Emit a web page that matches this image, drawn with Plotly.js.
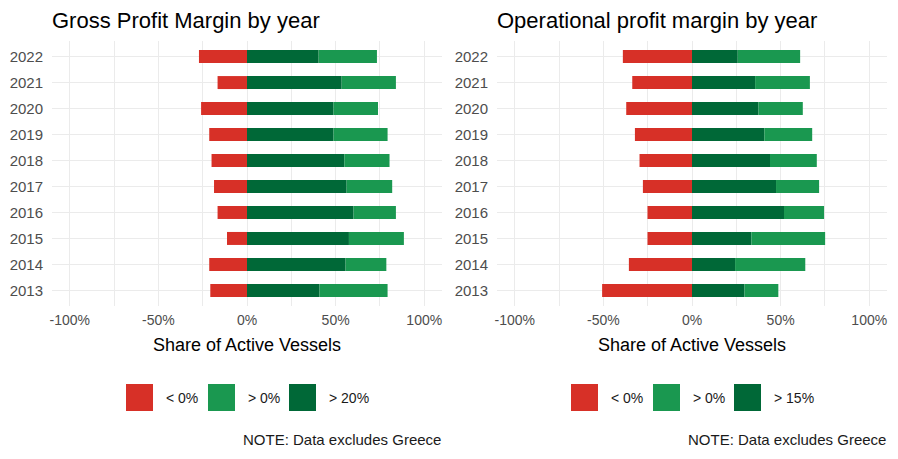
<!DOCTYPE html>
<html>
<head>
<meta charset="utf-8">
<script src="https://cdn.plot.ly/plotly-3.0.1.min.js"></script>
<style>
  html, body { margin: 0; padding: 0; background: #fff; }
  #chart { width: 898px; height: 459px; }
</style>
</head>
<body>
<div id="chart"></div>
<script>
// data (share of active vessels, %)
const years = ['2013', '2014', '2015', '2016', '2017', '2018', '2019', '2020', '2021', '2022'];

// gross profit margin
const grossNeg    = [-20.7, -21.3, -11.3, -16.6, -18.6, -20.0, -21.3, -25.9, -16.6, -27.1];
const grossOver20 = [40.9, 55.6, 57.5, 60.1, 56.2, 54.9, 48.8, 48.8, 53.4, 40.4];
const grossOver0  = [38.4, 23.0, 31.0, 23.9, 25.7, 25.5, 30.5, 25.1, 30.6, 32.9];

// operational profit margin
const opNeg    = [-50.7, -35.6, -25.1, -25.1, -27.7, -29.6, -32.2, -37.1, -33.7, -39.0];
const opOver15 = [29.6, 24.3, 33.5, 51.9, 47.4, 44.0, 40.8, 37.5, 35.6, 25.8];
const opOver0  = [19.1, 39.6, 41.6, 22.6, 24.3, 26.4, 27.0, 25.0, 30.9, 35.2];

const xTicks = [-100, -50, 0, 50, 100];
const xTickText = ['-100%', '-50%', '0%', '50%', '100%'];

const panelTitles = ['Gross Profit Margin by year', 'Operational profit margin by year'];
const legendGross = ['< 0%', '> 0%', '> 20%'];
const legendOp = ['< 0%', '> 0%', '> 15%'];
const note = 'NOTE: Data excludes Greece';

// styling
const W = 898, H = 459;
const RED = '#d73027', GREEN = '#1a9850', DKGREEN = '#006837';
const FONT = 'Liberation Sans, Arial, sans-serif';
const GRID = '#ebebeb';
const panels = [{ left: 52, right: 442 }, { left: 497, right: 887 }];
const plotTop = 41, plotBottom = 306;

const px = x => x / W;
const py = y => 1 - y / H;

function barTrace(vals, color, n) {
  return {
    type: 'bar', orientation: 'h',
    x: vals, y: years,
    xaxis: n === 0 ? 'x' : 'x2', yaxis: n === 0 ? 'y' : 'y2',
    marker: { color: color, line: { width: 0 } },
    width: 0.5, showlegend: false, hoverinfo: 'x+y'
  };
}

const traces = [
  barTrace(grossNeg, RED, 0), barTrace(grossOver20, DKGREEN, 0), barTrace(grossOver0, GREEN, 0),
  barTrace(opNeg, RED, 1), barTrace(opOver15, DKGREEN, 1), barTrace(opOver0, GREEN, 1)
];

function xAxis(n) {
  const p = panels[n];
  return {
    domain: [px(p.left), px(p.right)], anchor: n === 0 ? 'y' : 'y2',
    range: [-110, 110], tickmode: 'array', tickvals: xTicks, ticktext: xTickText,
    showgrid: true, gridcolor: GRID, gridwidth: 1,
    minor: { dtick: 25, showgrid: true, gridcolor: GRID, gridwidth: 1 },
    zeroline: false, showline: false, ticks: '',
    tickfont: { family: FONT, size: 14, color: '#4d4d4d' },
    ticklabelstandoff: 4,
    title: { text: 'Share of Active Vessels', font: { family: FONT, size: 18, color: '#000' }, standoff: 11 },
    automargin: false, fixedrange: true
  };
}

function yAxis(n) {
  return {
    domain: [py(plotBottom), py(plotTop)], anchor: n === 0 ? 'x' : 'x2',
    type: 'category', categoryorder: 'array', categoryarray: years,
    range: [-0.6, years.length - 0.4],
    showgrid: true, gridcolor: GRID, gridwidth: 1,
    zeroline: false, showline: false, ticks: '',
    tickfont: { family: FONT, size: 15, color: '#4d4d4d' },
    ticklabelstandoff: 8,
    automargin: false, fixedrange: true
  };
}

// titles, legends and notes
const annotations = [];
const shapes = [];
const legendColors = [RED, GREEN, DKGREEN];
const keyOffsets = [-121, -39, 42];

[legendGross, legendOp].forEach((labels, n) => {
  const p = panels[n];
  const mid = (p.left + p.right) / 2;
  annotations.push({
    text: panelTitles[n], xref: 'paper', yref: 'paper',
    x: px(p.left - 2), y: py(21), xanchor: 'left', yanchor: 'middle',
    showarrow: false, font: { family: FONT, size: 22, color: '#000' }
  });
  labels.forEach((lab, i) => {
    const x0 = mid + keyOffsets[i];
    shapes.push({
      type: 'rect', xref: 'paper', yref: 'paper',
      x0: px(x0), x1: px(x0 + 27), y0: py(411), y1: py(384),
      fillcolor: legendColors[i], line: { width: 0 }
    });
    annotations.push({
      text: lab, xref: 'paper', yref: 'paper',
      x: px(x0 + 38), y: py(398), xanchor: 'left', yanchor: 'middle',
      showarrow: false, font: { family: FONT, size: 14, color: '#1a1a1a' }
    });
  });
  annotations.push({
    text: note, xref: 'paper', yref: 'paper',
    x: px(p.right + 1), y: py(439), xanchor: 'right', yanchor: 'middle',
    showarrow: false, font: { family: FONT, size: 15, color: '#1a1a1a' }
  });
});

const layout = {
  width: W, height: H,
  margin: { l: 0, r: 0, t: 0, b: 0 },
  paper_bgcolor: '#fff', plot_bgcolor: '#fff',
  barmode: 'relative', bargap: 0.5,
  font: { family: FONT },
  xaxis: xAxis(0), yaxis: yAxis(0),
  xaxis2: xAxis(1), yaxis2: yAxis(1),
  annotations: annotations, shapes: shapes,
  showlegend: false
};

Plotly.newPlot('chart', traces, layout, { displayModeBar: false, staticPlot: true });
</script>
</body>
</html>
